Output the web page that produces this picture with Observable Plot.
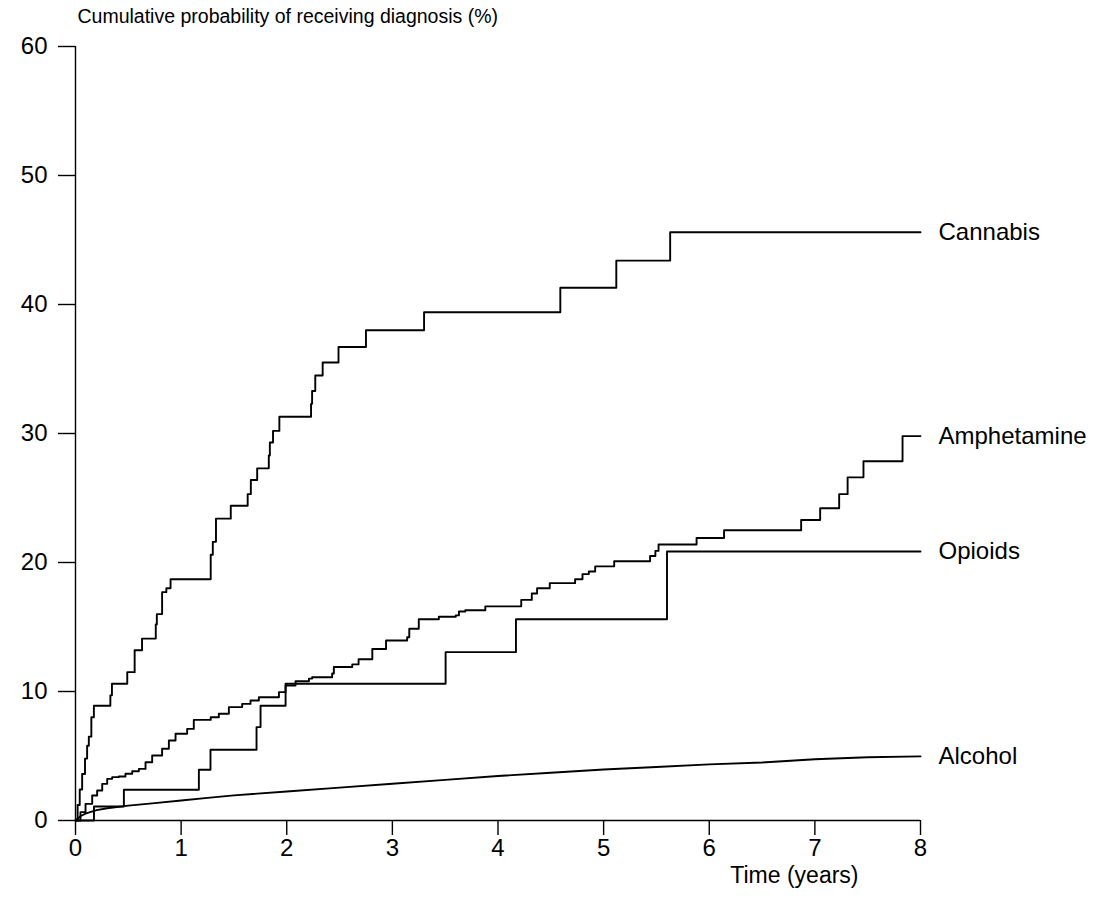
<!DOCTYPE html>
<html><head><meta charset="utf-8">
<script src="https://cdn.jsdelivr.net/npm/d3@7"></script>
<script src="https://cdn.jsdelivr.net/npm/@observablehq/plot@0.6"></script>
<style>body{margin:0;background:#fff}</style>
</head><body><div id="chart"></div>
<script>
const xTicks = [0,1,2,3,4,5,6,7,8];
const yTicks = [0,10,20,30,40,50,60];
const seriesNames = ["Cannabis","Amphetamine","Opioids","Alcohol"];
const titleText = "Cumulative probability of receiving diagnosis (%)";
const xLabelText = "Time (years)";

// [time (years), cumulative probability (%)]
const cannabis = [[0,0],[0.02,1.2],[0.04,2.4],[0.063,3.6],[0.09,4.8],[0.11,5.8],[0.126,6.5],[0.15,8.0],[0.174,8.9],
 [0.33,9.7],[0.345,10.6],[0.49,11.5],[0.56,13.2],[0.63,14.1],[0.76,15.2],[0.77,16.0],[0.82,17.7],[0.86,18.0],[0.90,18.7],
 [1.28,20.6],[1.30,21.6],[1.33,23.4],[1.47,24.4],[1.63,25.3],[1.66,26.4],[1.72,27.3],[1.83,28.3],[1.84,29.3],[1.87,30.2],
 [1.93,31.3],[2.23,32.3],[2.24,33.3],[2.27,34.5],[2.34,35.5],[2.49,36.7],[2.75,38.0],[3.30,39.4],[4.59,41.3],[5.12,43.4],
 [5.63,45.6],[8.0,45.6]];
const amphetamine = [[0,0],[0.047,0.65],[0.095,1.29],[0.158,1.94],[0.205,2.33],[0.253,2.84],[0.30,3.23],[0.347,3.36],
 [0.41,3.41],[0.473,3.62],[0.537,3.82],[0.60,4.0],[0.663,4.52],[0.726,5.04],[0.82,5.56],[0.884,6.2],[0.947,6.72],
 [1.057,7.1],[1.12,7.8],[1.28,8.0],[1.357,8.27],[1.452,8.79],[1.578,9.04],[1.657,9.3],[1.736,9.56],[1.926,9.95],
 [1.989,10.47],[2.083,10.8],[2.21,11.0],[2.24,11.1],[2.43,11.4],[2.446,11.9],[2.62,12.1],[2.68,12.5],[2.81,13.3],
 [2.94,13.95],[3.14,14.2],[3.16,14.86],[3.25,15.6],[3.44,15.8],[3.6,15.9],[3.63,16.2],[3.69,16.3],[3.88,16.6],
 [4.22,17.1],[4.32,17.6],[4.37,18.0],[4.49,18.4],[4.73,18.7],[4.80,19.1],[4.86,19.3],[4.92,19.7],[5.10,20.1],
 [5.44,20.5],[5.49,20.9],[5.52,21.4],[5.88,21.9],[6.14,22.5],[6.87,23.3],[7.05,24.2],[7.23,25.3],[7.31,26.6],
 [7.46,27.85],[7.83,29.8],[8.0,29.8]];
const opioids = [[0,0],[0.175,1.09],[0.458,2.38],[1.168,3.93],[1.278,5.48],[1.714,7.24],[1.752,8.9],[1.989,10.6],
 [3.504,13.05],[4.17,15.6],[5.60,20.85],[8.0,20.85]];
const alcohol = [[0,0],[0.05,0.35],[0.1,0.55],[0.2,0.8],[0.3,0.95],[0.5,1.15],[0.75,1.35],[1.0,1.55],[1.25,1.75],
 [1.5,1.95],[2.0,2.25],[2.5,2.55],[3.0,2.85],[3.5,3.15],[4.0,3.45],[4.5,3.7],[5.0,3.95],[5.5,4.15],[6.0,4.35],
 [6.5,4.5],[7.0,4.75],[7.5,4.9],[8.0,4.97]];

const toRows = (name, arr) => arr.map(([t, v]) => ({series: name, t, v}));
const stepRows = [...toRows("Cannabis", cannabis), ...toRows("Amphetamine", amphetamine), ...toRows("Opioids", opioids)];
const alcoholRows = toRows("Alcohol", alcohol);
const labelRows = [cannabis, amphetamine, opioids, alcohol].map((a, i) => ({series: seriesNames[i], t: a[a.length-1][0], v: a[a.length-1][1]}));

const FONT = "'Liberation Sans', Arial, Helvetica, sans-serif";
const chart = Plot.plot({
  width: 1109, height: 912,
  marginLeft: 75, marginRight: 189, marginTop: 46, marginBottom: 92,
  style: {fontFamily: FONT, fontSize: "24px", color: "#000", background: "#fff"},
  x: {domain: [0, 8]},
  y: {domain: [0, 60]},
  marks: [
    Plot.axisX({ticks: xTicks, tickSize: 15, tickPadding: 3, fontSize: 24, label: null, tickFormat: d => String(d), strokeWidth: 1.4}),
    Plot.axisY({ticks: yTicks, tickSize: 17, tickPadding: 11, fontSize: 24, label: null, tickFormat: d => String(d), strokeWidth: 1.4}),
    Plot.ruleY([0], {x1: 0, x2: 8, stroke: "#000", strokeWidth: 1.4}),
    Plot.ruleX([0], {y1: 0, y2: 60, stroke: "#000", strokeWidth: 1.4}),
    Plot.line(stepRows, {x: "t", y: "v", z: "series", curve: "step-after", stroke: "#000", strokeWidth: 1.9}),
    Plot.line(alcoholRows, {x: "t", y: "v", stroke: "#000", strokeWidth: 1.9}),
    Plot.text(labelRows, {x: "t", y: "v", text: "series", dx: 18, textAnchor: "start", fontSize: 24, fill: "#000"}),
    Plot.text([titleText], {frameAnchor: "top-left", dx: 2, dy: -37, textAnchor: "start", fontSize: 19.5, fill: "#000"}),
    Plot.text([xLabelText], {frameAnchor: "bottom-right", dx: -62, dy: 62, textAnchor: "end", fontSize: 23, fill: "#000"})
  ]
});
document.getElementById("chart").appendChild(chart);
</script>
</body></html>
